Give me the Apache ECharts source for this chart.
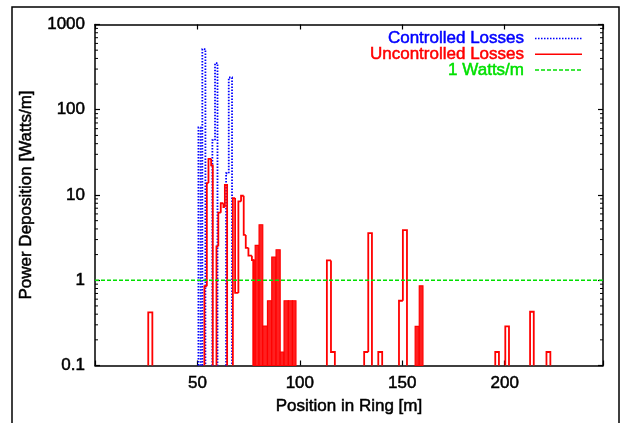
<!DOCTYPE html>
<html>
<head>
<meta charset="utf-8">
<script src="https://cdn.jsdelivr.net/npm/echarts@6/dist/echarts.min.js"></script>
<style>
  html, body { margin: 0; padding: 0; background: #ffffff; }
  #chart { width: 628px; height: 423px; }
</style>
</head>
<body>
<div id="chart"></div>
<script>
// Beam-loss power deposition around the ring (log scale)
const ringLength = 248;
const xTickLabels = ['50', '100', '150', '200'];
const yTickLabels = ['0.1', '1', '10', '100', '1000'];
const seriesNames = ['Controlled Losses', 'Uncontrolled Losses', '1 Watts/m'];
const thresholdLevel = 1; // W/m

// Histogram bins: [start (m), end (m), power (W/m)]
const controlledLosses = [
  [50.5, 51.6, 62],
  [52.4, 53.9, 515],
  [57.3, 58.6, 44],
  [58.6, 59.8, 353],
  [64.0, 65.3, 18],
  [65.3, 66.9, 239]
];

// Uncontrolled losses drawn as an outlined step histogram
const uncontrolledLosses = [
  [26.0, 28.0, 0.42],
  [53.4, 54.6, 0.85],
  [54.6, 55.4, 13.8],
  [55.4, 56.7, 26.6],
  [56.7, 57.5, 22.2],
  [59.3, 60.2, 2.5],
  [60.2, 61.4, 6.2],
  [61.4, 62.7, 8.0],
  [62.7, 63.4, 7.2],
  [63.4, 64.5, 13.1],
  [67.3, 68.4, 9.2],
  [68.4, 70.0, 0.71],
  [70.0, 71.3, 8.4],
  [71.3, 72.6, 9.8],
  [72.6, 73.6, 3.4],
  [73.6, 74.9, 2.4],
  [74.9, 76.6, 1.94],
  [76.6, 77.3, 1.72],
  [113.2, 115.2, 1.71],
  [115.2, 117.1, 0.144],
  [131.4, 133.4, 0.144],
  [133.4, 135.2, 3.58],
  [138.3, 140.2, 0.144],
  [148.4, 150.3, 0.575],
  [150.3, 152.3, 3.88],
  [195.4, 197.2, 0.144],
  [200.3, 202.1, 0.287],
  [212.4, 214.2, 0.427],
  [220.4, 222.3, 0.144]
];

// Uncontrolled losses in closely packed bins, drawn solid
const uncontrolledDenseLosses = [
  [77.3, 78.2, 1.72],
  [78.2, 80.1, 2.56],
  [80.1, 81.9, 4.48],
  [81.9, 84.2, 0.29],
  [84.2, 86.3, 0.575],
  [86.3, 88.4, 1.87],
  [88.4, 90.4, 2.28],
  [90.4, 92.3, 0.144],
  [92.3, 94.4, 0.575],
  [94.4, 96.4, 0.575],
  [96.4, 98.1, 0.575],
  [156.3, 158.3, 0.287],
  [158.3, 160.1, 0.86]
];

const FONT = '"Liberation Sans", Arial, Helvetica, sans-serif';
const yMin = Number(yTickLabels[0]);
const yMax = Number(yTickLabels[yTickLabels.length - 1]);

// unlabeled log minor ticks (2..9 within each decade)
const minorTicks = [];
for (let d = yMin; d < yMax; d *= 10) {
  for (let k = 2; k <= 9; k++) minorTicks.push(+(d * k).toPrecision(6));
}

function stepOutline(bins, color, width, dash) {
  return function (params, api) {
    const i = params.dataIndex;
    const b = bins[i], prev = bins[i - 1], next = bins[i + 1];
    const joinPrev = prev && Math.abs(prev[1] - b[0]) < 1e-6;
    const joinNext = next && Math.abs(next[0] - b[1]) < 1e-6;
    const pts = [
      api.coord([b[0], joinPrev ? prev[2] : yMin]),
      api.coord([b[0], b[2]]),
      api.coord([b[1], b[2]])
    ];
    if (!joinNext) pts.push(api.coord([b[1], yMin]));
    return {
      type: 'polyline',
      shape: { points: pts },
      style: { stroke: color, lineWidth: width, lineDash: dash, fill: null }
    };
  };
}

function solidBins(bins, color) {
  return function (params, api) {
    const b = bins[params.dataIndex];
    const p0 = api.coord([b[0], b[2]]);
    const p1 = api.coord([b[1], yMin]);
    return {
      type: 'rect',
      shape: { x: p0[0], y: p0[1], width: p1[0] - p0[0], height: p1[1] - p0[1] },
      style: { fill: color, stroke: '#ff0000', lineWidth: 1.2 }
    };
  };
}

function minorTickMarks(params, api) {
  const v = minorTicks[params.dataIndex];
  const l = api.coord([0, v]);
  const r = api.coord([ringLength, v]);
  return {
    type: 'group',
    children: [
      { type: 'line', shape: { x1: l[0], y1: l[1], x2: l[0] + 3, y2: l[1] }, style: { stroke: '#000', lineWidth: 1 } },
      { type: 'line', shape: { x1: r[0] - 3, y1: r[1], x2: r[0], y2: r[1] }, style: { stroke: '#000', lineWidth: 1 } }
    ]
  };
}

const axisText = { color: '#000', fontSize: 17, fontFamily: FONT, textBorderColor: '#000', textBorderWidth: 0.5 };
const axisLine = { show: true, onZero: false, lineStyle: { color: '#000', width: 1.5 } };
const majorTick = { show: true, inside: true, length: 5, lineStyle: { color: '#000', width: 1.2 } };

function legendText(label, y, color) {
  return {
    type: 'text', x: 524, y: y, silent: true,
    style: {
      text: label, fill: color, font: '17px ' + FONT, align: 'right', verticalAlign: 'middle',
      stroke: color, lineWidth: 0.5
    }
  };
}

const chart = echarts.init(document.getElementById('chart'), null, { renderer: 'canvas' });
chart.setOption({
  animation: false,
  backgroundColor: '#ffffff',
  grid: { left: 95, top: 24.5, width: 508, height: 341, containLabel: false },
  xAxis: [
    {
      type: 'value', min: 0, max: ringLength, interval: 50, position: 'bottom',
      axisLine: axisLine, axisTick: majorTick, splitLine: { show: false },
      axisLabel: {
        ...axisText, margin: 9,
        formatter: v => xTickLabels.includes(String(v)) ? String(v) : ''
      },
      name: 'Position in Ring [m]', nameLocation: 'middle', nameGap: 32,
      nameTextStyle: axisText
    },
    {
      type: 'value', min: 0, max: ringLength, interval: 50, position: 'top',
      axisLine: axisLine, axisTick: majorTick, splitLine: { show: false },
      axisLabel: { show: false }
    }
  ],
  yAxis: [
    {
      type: 'log', logBase: 10, min: yMin, max: yMax, position: 'left',
      axisLine: axisLine, axisTick: majorTick, splitLine: { show: false },
      axisLabel: {
        ...axisText, margin: 10,
        formatter: v => yTickLabels.find(s => Math.abs(Math.log10(Number(s)) - Math.log10(v)) < 1e-6) || ''
      },
      name: 'Power Deposition [Watts/m]', nameLocation: 'middle', nameGap: 60, nameRotate: 90,
      nameTextStyle: axisText
    },
    {
      type: 'log', logBase: 10, min: yMin, max: yMax, position: 'right',
      axisLine: axisLine, axisTick: majorTick, splitLine: { show: false },
      axisLabel: { show: false }
    }
  ],
  series: [
    {
      name: seriesNames[0], type: 'custom', silent: true, z: 2,
      renderItem: stepOutline(controlledLosses, '#0000ff', 1.8, [1.5, 1.5]),
      encode: { x: [0, 1], y: 2 },
      data: controlledLosses
    },
    {
      name: seriesNames[1], type: 'custom', silent: true, z: 3,
      renderItem: stepOutline(uncontrolledLosses, '#ff0000', 1.8, null),
      encode: { x: [0, 1], y: 2 },
      data: uncontrolledLosses
    },
    {
      name: seriesNames[1], type: 'custom', silent: true, z: 3,
      renderItem: solidBins(uncontrolledDenseLosses, '#ff2020'),
      encode: { x: [0, 1], y: 2 },
      data: uncontrolledDenseLosses
    },
    {
      name: seriesNames[2], type: 'line', silent: true, z: 4,
      showSymbol: false, symbol: 'none',
      lineStyle: { color: '#00e000', width: 1.3, type: [4, 2] },
      data: [[0, thresholdLevel], [ringLength, thresholdLevel]]
    },
    {
      name: 'minor ticks', type: 'custom', silent: true, z: 5,
      renderItem: minorTickMarks,
      encode: { x: 0, y: 0 },
      data: minorTicks.map(v => [v])
    }
  ],
  graphic: [
    {
      type: 'rect', silent: true, z: -10,
      shape: { x: 12, y: 7, width: 607, height: 440 },
      style: { fill: 'none', stroke: '#000', lineWidth: 1.5 }
    },
    legendText(seriesNames[0], 38.5, '#0000ff'),
    legendText(seriesNames[1], 54.3, '#ff0000'),
    legendText(seriesNames[2], 70, '#00e000'),
    { type: 'line', silent: true, shape: { x1: 535, y1: 38.5, x2: 582, y2: 38.5 },
      style: { stroke: '#0000ff', lineWidth: 1.5, lineDash: [1.5, 1.5] } },
    { type: 'line', silent: true, shape: { x1: 535, y1: 54.3, x2: 582, y2: 54.3 },
      style: { stroke: '#ff0000', lineWidth: 1.6 } },
    { type: 'line', silent: true, shape: { x1: 535, y1: 70, x2: 582, y2: 70 },
      style: { stroke: '#00e000', lineWidth: 1.3, lineDash: [4, 2] } }
  ]
});
</script>
</body>
</html>
